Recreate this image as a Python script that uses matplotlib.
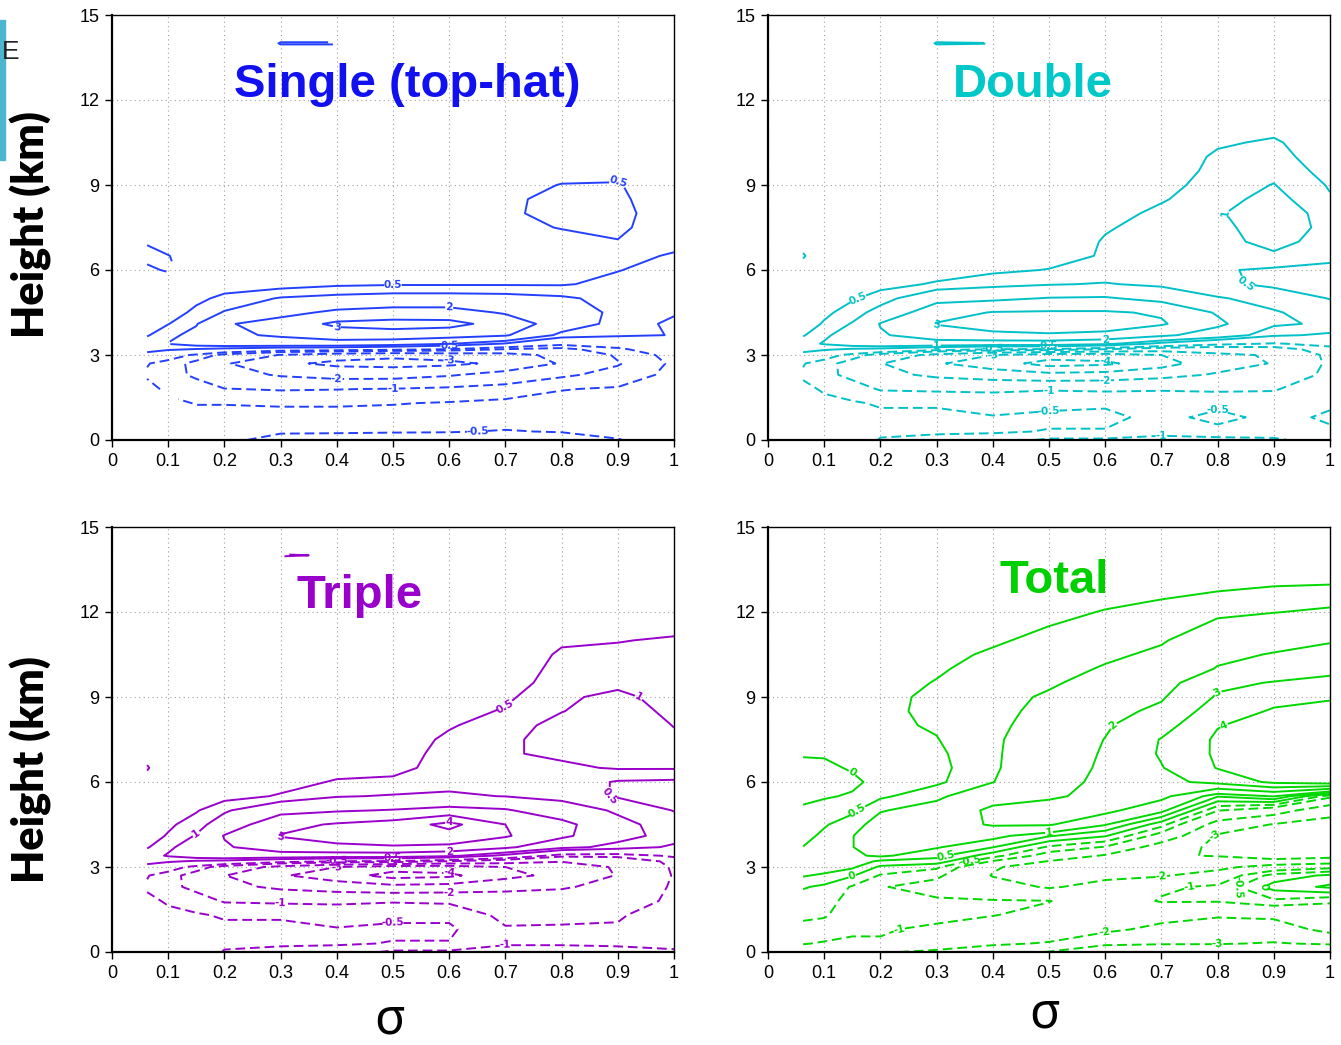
#!/usr/bin/env python3
"""
Four-panel height / sigma contour chart (Single, Double, Triple, Total).
Fields are read off the reference picture on a coarse sigma x height grid.
"""
import matplotlib
matplotlib.use("Agg")
import matplotlib.pyplot as plt
import numpy as np
from matplotlib import font_manager
from matplotlib.patches import Rectangle

# grid the fields are given on
SIGMA = [0.0625, 0.1, 0.15, 0.2, 0.3, 0.4, 0.5, 0.6, 0.7, 0.8, 0.9, 1.0]
HEIGHT_KM = [0.0, 0.3, 0.8, 1.3, 1.8, 2.3, 2.7, 3.0, 3.2, 3.4, 3.7, 4.1, 4.5, 5.0, 5.5,
             6.0, 6.5, 7.0, 7.5, 8.0, 8.5, 9.0, 9.5, 10.0, 10.5, 11.0, 12.0, 13.0, 14.0, 15.0]

LEVELS = [-4, -3, -2, -1, -0.5, 0.5, 1, 2, 3, 4]
LEVELS_TOTAL = [-4, -3, -2, -1, -0.5, 0, 0.5, 1, 2, 3, 4]

X_TICKS = [0, 0.1, 0.2, 0.3, 0.4, 0.5, 0.6, 0.7, 0.8, 0.9, 1]
X_TICK_LABELS = ["0", "0.1", "0.2", "0.3", "0.4", "0.5", "0.6", "0.7", "0.8", "0.9", "1"]
Y_TICKS = [0, 3, 6, 9, 12, 15]

# one profile (bottom -> top, on HEIGHT_KM) per SIGMA column
single_profiles = [
    [-0.1, -0.1, -0.2, -0.3, -0.35, -0.56, -0.47, 0.3, 0.7, 0.8, 0.45, 0.25, 0.1, 0.05, 0.1, 0.4, 0.65, 0.45, 0.1, 0, 0, 0, 0, 0, 0, 0, 0, 0, 0, 0],
    [-0.1, -0.15, -0.25, -0.4, -0.6, -0.8, -0.7, -0.2, 0.6, 1.02, 0.85, 0.48, 0.3, 0.15, 0.15, 0.56, 0.52, 0.2, 0, 0, 0, 0, 0, 0, 0, 0, 0, 0, 0, 0],
    [-0.2, -0.25, -0.35, -0.52, -0.75, -1.1, -1.2, -0.6, 0.45, 1.3, 1.2, 0.95, 0.6, 0.4, 0.15, 0.3, 0.2, 0.05, 0, 0, 0, 0, 0, 0, 0, 0, 0, 0, 0, 0],
    [-0.4, -0.4, -0.35, -0.52, -0.98, -1.6, -1.9, -1.2, 0.3, 1.5, 1.85, 1.9, 1.05, 0.6, 0.3, 0.2, 0.1, 0, 0, 0, 0, 0, 0, 0, 0, 0, 0, 0, 0, 0],
    [-0.65, -0.45, -0.35, -0.55, -1.05, -2.1, -2.8, -2.05, 0.0, 1.6, 2.1, 2.4, 1.7, 1.05, 0.25, 0.15, 0.05, 0, 0, 0, 0, 0, 0, 0, 0, 0, 0, 0, 0.52, 0],
    [-0.7, -0.45, -0.35, -0.55, -1.02, -2.4, -3.2, -2.6, -0.1, 1.6, 2.5, 3.2, 2.2, 1.2, 0.4, 0.15, 0.05, 0, 0, 0, 0, 0, 0, 0, 0, 0, 0, 0, 0.52, 0],
    [-0.7, -0.47, -0.35, -0.52, -0.97, -2.4, -3.3, -2.8, -0.3, 1.4, 2.6, 3.35, 2.4, 1.3, 0.45, 0.15, 0.05, 0, 0, 0, 0, 0, 0, 0, 0, 0, 0, 0, 0, 0],
    [-0.7, -0.48, -0.35, -0.47, -0.85, -2.1, -3.2, -2.6, -0.55, 1.05, 2.4, 3.3, 2.4, 1.3, 0.45, 0.15, 0.05, 0, 0, 0, 0, 0, 0, 0, 0, 0, 0, 0, 0, 0],
    [-0.7, -0.52, -0.35, -0.42, -0.7, -1.6, -2.8, -2.4, -1.05, 0.45, 2.1, 2.6, 1.9, 1.25, 0.45, 0.15, 0.1, 0.25, 0.38, 0.42, 0.4, 0.3, 0.15, 0.05, 0, 0, 0, 0, 0, 0],
    [-0.7, -0.48, -0.3, -0.35, -0.52, -1.1, -1.9, -1.7, -1.2, -0.3, 0.8, 1.5, 1.4, 1.1, 0.45, 0.3, 0.25, 0.35, 0.52, 0.65, 0.65, 0.52, 0.3, 0.1, 0, 0, 0, 0, 0, 0],
    [-0.52, -0.4, -0.25, -0.3, -0.45, -0.8, -1.05, -0.9, -0.6, -0.2, 0.6, 0.75, 0.85, 0.8, 0.65, 0.48, 0.35, 0.48, 0.6, 0.7, 0.65, 0.55, 0.3, 0.1, 0, 0, 0, 0, 0, 0],
    [-0.3, -0.3, -0.2, -0.2, -0.25, -0.35, -0.4, -0.3, -0.1, 0.2, 0.48, 0.4, 0.55, 0.7, 0.75, 0.7, 0.55, 0.35, 0.2, 0.1, 0, 0, 0, 0, 0, 0, 0, 0, 0, 0],
]

double_profiles = [
    [-0.1, -0.15, -0.2, -0.3, -0.4, -0.56, -0.47, 0.3, 0.7, 0.8, 0.45, 0.25, 0.15, 0.1, 0.1, 0.3, 0.55, 0.3, 0.1, 0, 0, 0, 0, 0, 0, 0, 0, 0, 0, 0],
    [-0.2, -0.3, -0.3, -0.4, -0.55, -0.85, -0.75, -0.2, 0.6, 1.05, 0.9, 0.55, 0.4, 0.25, 0.15, 0.1, 0.1, 0.05, 0, 0, 0, 0, 0, 0, 0, 0, 0, 0, 0, 0],
    [-0.3, -0.4, -0.35, -0.45, -0.75, -1.15, -1.3, -0.7, 0.4, 1.4, 1.3, 1.05, 0.7, 0.45, 0.2, 0.1, 0.05, 0, 0, 0, 0, 0, 0, 0, 0, 0, 0, 0, 0, 0],
    [-0.52, -0.45, -0.4, -0.55, -1.05, -1.7, -1.95, -1.3, 0.3, 1.6, 1.9, 2.05, 1.3, 0.7, 0.35, 0.1, 0.05, 0, 0, 0, 0, 0, 0, 0, 0, 0, 0, 0, 0, 0],
    [-0.6, -0.45, -0.4, -0.55, -1.1, -2.2, -2.9, -2.3, -0.2, 1.6, 2.5, 3.05, 2.6, 1.7, 0.55, 0.3, 0.1, 0, 0, 0, 0, 0, 0, 0, 0, 0, 0, 0, 0.52, 0],
    [-0.7, -0.45, -0.47, -0.7, -1.1, -2.5, -3.5, -3.0, -0.55, 1.5, 2.8, 3.4, 3.05, 1.8, 0.8, 0.4, 0.15, 0.05, 0, 0, 0, 0, 0, 0, 0, 0, 0, 0, 0.505, 0],
    [-1.1, -0.52, -0.42, -0.6, -1.05, -2.7, -4.4, -3.5, -0.6, 1.5, 2.9, 3.5, 3.1, 2.05, 0.95, 0.52, 0.3, 0.1, 0, 0, 0, 0, 0, 0, 0, 0, 0, 0, 0, 0],
    [-1.1, -0.52, -0.42, -0.55, -1.1, -2.6, -4.2, -3.5, -1.05, 1.2, 2.8, 3.4, 3.1, 2.1, 1.05, 0.6, 0.55, 0.55, 0.45, 0.3, 0.1, 0, 0, 0, 0, 0, 0, 0, 0, 0],
    [-1.2, -0.8, -0.6, -0.65, -1.05, -2.3, -3.4, -3.0, -1.5, 0.3, 2.2, 3.1, 2.9, 1.7, 0.85, 0.8, 0.8, 0.75, 0.7, 0.62, 0.45, 0.3, 0.1, 0, 0, 0, 0, 0, 0, 0],
    [-1.2, -0.6, -0.4, -0.6, -1.1, -1.9, -2.4, -2.2, -1.5, -0.3, 1.5, 2.2, 1.9, 1.05, 0.6, 0.55, 0.65, 0.8, 0.85, 0.95, 0.8, 0.75, 0.7, 0.62, 0.4, 0.2, 0.05, 0, 0, 0],
    [-1.1, -0.7, -0.6, -0.7, -1.05, -1.6, -1.95, -1.9, -1.3, -0.55, 0.6, 1.1, 1.05, 0.8, 0.4, 0.42, 0.9, 1.2, 1.3, 1.3, 1.2, 1.02, 0.85, 0.75, 0.6, 0.3, 0.05, 0, 0, 0],
    [-0.7, -0.55, -0.45, -0.55, -0.6, -0.8, -0.85, -0.8, -0.7, -0.3, 0.4, 0.9, 0.75, 0.48, 0.35, 0.4, 0.6, 0.75, 0.85, 0.8, 0.55, 0.45, 0.3, 0.1, 0, 0, 0, 0, 0, 0],
]

triple_profiles = [
    [-0.1, -0.15, -0.2, -0.3, -0.4, -0.56, -0.47, 0.3, 0.7, 0.8, 0.45, 0.25, 0.15, 0.1, 0.1, 0.3, 0.55, 0.3, 0.1, 0, 0, 0, 0, 0, 0, 0, 0, 0, 0, 0],
    [-0.2, -0.3, -0.3, -0.4, -0.55, -0.85, -0.75, -0.2, 0.6, 1.05, 0.9, 0.55, 0.4, 0.25, 0.15, 0.1, 0.05, 0, 0, 0, 0, 0, 0, 0, 0, 0, 0, 0, 0, 0],
    [-0.3, -0.4, -0.35, -0.45, -0.75, -1.15, -1.3, -0.7, 0.4, 1.4, 1.3, 1.05, 0.75, 0.45, 0.2, 0.1, 0, 0, 0, 0, 0, 0, 0, 0, 0, 0, 0, 0, 0, 0],
    [-0.52, -0.45, -0.4, -0.55, -1.05, -1.7, -1.97, -1.3, 0.3, 1.6, 1.9, 2.05, 1.4, 0.9, 0.3, 0.15, 0.05, 0, 0, 0, 0, 0, 0, 0, 0, 0, 0, 0, 0, 0],
    [-0.6, -0.45, -0.4, -0.55, -1.1, -2.2, -2.9, -2.3, -0.2, 1.6, 2.5, 3.05, 2.7, 1.7, 0.55, 0.3, 0.15, 0.05, 0, 0, 0, 0, 0, 0, 0, 0, 0, 0, 0.52, 0],
    [-0.7, -0.45, -0.47, -0.7, -1.1, -2.5, -3.5, -3.0, -0.55, 1.5, 2.8, 3.4, 3.1, 1.9, 0.95, 0.55, 0.3, 0.1, 0.05, 0, 0, 0, 0, 0, 0, 0, 0, 0, 0.48, 0],
    [-1.1, -0.52, -0.42, -0.6, -1.05, -2.7, -4.4, -3.5, -0.6, 1.5, 2.9, 3.6, 3.4, 2.05, 1.05, 0.6, 0.35, 0.3, 0.2, 0.1, 0.05, 0, 0, 0, 0, 0, 0, 0, 0, 0],
    [-1.1, -0.52, -0.42, -0.6, -1.1, -2.6, -4.2, -3.5, -1.05, 1.2, 2.8, 3.6, 4.3, 2.3, 1.1, 0.8, 0.7, 0.65, 0.6, 0.45, 0.3, 0.15, 0.05, 0, 0, 0, 0, 0, 0, 0],
    [-1.2, -0.95, -0.95, -1.15, -1.4, -2.3, -3.3, -3.0, -1.5, 0.3, 2.2, 3.1, 3.0, 2.1, 0.98, 0.95, 0.95, 0.95, 0.9, 0.75, 0.55, 0.4, 0.25, 0.1, 0, 0, 0, 0, 0, 0],
    [-1.2, -0.95, -0.9, -1.2, -1.5, -2.1, -2.7, -2.5, -1.95, -0.8, 1.2, 2.2, 2.3, 1.4, 0.8, 0.8, 0.9, 1.1, 1.2, 1.2, 0.98, 0.9, 0.75, 0.7, 0.6, 0.4, 0.1, 0, 0, 0],
    [-1.2, -0.9, -0.95, -1.05, -1.4, -1.7, -1.95, -1.9, -1.6, -0.8, 0.8, 1.25, 1.2, 0.9, 0.45, 0.45, 1.05, 1.3, 1.45, 1.45, 1.3, 1.15, 0.85, 0.75, 0.6, 0.48, 0.2, 0, 0, 0],
    [-1.1, -0.8, -0.7, -0.75, -0.85, -0.9, -0.95, -0.9, -0.8, -0.4, 0.4, 0.75, 0.7, 0.48, 0.3, 0.4, 1.05, 1.2, 1.1, 0.98, 0.85, 0.75, 0.7, 0.65, 0.6, 0.55, 0.2, 0, 0, 0],
]

total_profiles = [
    [-1.3, -0.97, -0.65, -0.4, -0.25, 0.05, 0.55, 0.75, 0.75, 0.65, 0.51, 0.35, 0.25, 0.1, -0.15, -0.25, -0.15, 0.05, 0.15, 0.2, 0.2, 0.2, 0.2, 0.2, 0.2, 0.2, 0.15, 0.1, 0.1, 0.1],
    [-1.4, -1.05, -0.7, -0.45, -0.3, -0.1, 0.4, 0.8, 0.85, 0.8, 0.7, 0.6, 0.45, 0.2, -0.05, -0.15, -0.1, 0.05, 0.15, 0.2, 0.2, 0.2, 0.2, 0.2, 0.2, 0.2, 0.15, 0.1, 0.1, 0.1],
    [-1.4, -1.1, -0.9, -0.75, -0.7, -0.55, 0.05, 0.6, 0.8, 0.9, 0.98, 0.98, 0.75, 0.4, 0.05, -0.1, 0.05, 0.15, 0.25, 0.25, 0.25, 0.25, 0.25, 0.25, 0.25, 0.2, 0.15, 0.1, 0.1, 0.1],
    [-1.9, -1.05, -0.95, -0.85, -0.85, -0.95, -0.55, -0.1, 0.4, 1.1, 1.4, 1.4, 1.3, 0.95, 0.4, 0.15, 0.2, 0.3, 0.35, 0.4, 0.4, 0.4, 0.35, 0.3, 0.3, 0.25, 0.2, 0.15, 0.1, 0.1],
    [-2.2, -1.4, -1.1, -0.85, -0.9, -1.3, -0.85, -0.4, 0.3, 0.65, 1.05, 1.35, 1.5, 1.3, 0.85, 0.4, 0.35, 0.4, 0.48, 0.55, 0.6, 0.58, 0.52, 0.45, 0.4, 0.35, 0.25, 0.2, 0.15, 0.1],
    [-2.4, -1.9, -1.35, -0.98, -0.95, -1.6, -2.05, -1.9, -1.05, -0.3, 0.52, 1.2, 2.1, 2.2, 1.6, 0.98, 0.9, 0.9, 0.9, 0.85, 0.8, 0.75, 0.7, 0.65, 0.55, 0.45, 0.3, 0.2, 0.15, 0.1],
    [-3.05, -2.05, -1.6, -1.2, -0.98, -2.1, -2.5, -2.45, -2.05, -1.3, -0.6, 0.55, 2.1, 2.3, 1.9, 1.75, 1.6, 1.5, 1.4, 1.3, 1.2, 1.1, 0.9, 0.8, 0.7, 0.6, 0.4, 0.25, 0.15, 0.1],
    [-3.4, -2.9, -1.75, -1.5, -1.4, -1.7, -2.2, -2.5, -2.6, -2.1, -1.05, 0.05, 1.05, 2.3, 2.2, 2.15, 2.12, 2.08, 2.02, 1.9, 1.7, 1.5, 1.3, 1.05, 0.9, 0.8, 0.52, 0.3, 0.2, 0.1],
    [-3.5, -2.95, -2.3, -1.6, -0.95, -1.1, -2.1, -2.6, -2.8, -2.9, -2.5, -1.3, -0.3, 1.2, 2.3, 2.7, 2.95, 3.1, 3.05, 2.6, 2.2, 1.9, 1.6, 1.3, 1.1, 0.95, 0.62, 0.35, 0.2, 0.1],
    [-3.6, -2.95, -2.5, -1.9, -0.95, -0.9, -1.5, -2.3, -2.6, -3.05, -3.2, -3.1, -2.4, -0.95, 0.55, 3.3, 4.05, 4.15, 4.15, 3.95, 3.5, 3.1, 2.8, 2.05, 1.8, 1.35, 0.9, 0.35, 0.2, 0.1],
    [-3.7, -3.05, -2.5, -1.8, -0.6, 0.2, -0.3, -1.5, -2.8, -3.3, -3.5, -3.4, -3.05, -1.5, 1.05, 4.2, 4.5, 4.6, 4.6, 4.4, 4.1, 3.7, 3.05, 2.5, 2.05, 1.7, 0.98, 0.45, 0.25, 0.1],
    [-3.8, -2.9, -1.7, -1.5, -0.9, 0.6, 0.1, -1.2, -2.5, -3.3, -3.6, -3.6, -3.3, -2.7, -0.8, 4.6, 4.8, 4.9, 4.9, 4.6, 4.3, 3.9, 3.2, 2.8, 2.4, 1.9, 1.1, 0.48, 0.3, 0.1],
]


def pick_font(candidates):
    names = {f.name for f in font_manager.fontManager.ttflist}
    for c in candidates:
        if c in names:
            return c
    return "DejaVu Sans"


def draw_panel(ax, profiles, levels, line_color, title, title_color, title_xy,
               tick_font, title_font, title_size):
    field = np.array(profiles).T          # rows = heights, cols = sigma
    cs = ax.contour(SIGMA, HEIGHT_KM, field, levels=levels, colors=line_color,
                    linewidths=1.4)
    labels = ax.clabel(cs, fmt=lambda v: f"{v:g}", fontsize=7.5, inline=True,
                       inline_spacing=1)
    for t in labels:
        t.set_fontweight("bold")
        x, y = t.get_position()
        # no labels on the tiny stray pieces near the top / left edge
        if y > 13 or x < 0.14:
            t.remove()

    ax.set_xlim(0, 1)
    ax.set_ylim(0, 15)
    ax.set_xticks(X_TICKS)
    ax.set_xticklabels(X_TICK_LABELS)
    ax.set_yticks(Y_TICKS)
    ax.grid(True, color="#a0a0a0", linestyle=(0, (1, 3)), linewidth=0.8)
    ax.tick_params(direction="out", length=5, width=1.0, labelsize=13, pad=4)
    for lab in ax.get_xticklabels() + ax.get_yticklabels():
        lab.set_family(tick_font)
    for side in ("top", "right"):
        ax.spines[side].set_linewidth(1.0)
    for side in ("left", "bottom"):
        ax.spines[side].set_linewidth(1.6)

    ax.text(title_xy[0], title_xy[1], title, color=title_color, ha="center",
            va="baseline", fontsize=title_size, fontweight="bold", family=title_font)


def main():
    plt.rcParams["lines.dashed_pattern"] = [5, 2.5]
    plt.rcParams["contour.negative_linestyle"] = "dashed"

    narrow = pick_font(["Liberation Sans Narrow"])
    if narrow == "Liberation Sans Narrow":
        tick_font, title_font, title_size = narrow, narrow, 40
    else:
        tick_font, title_font, title_size = "Liberation Sans", "Liberation Sans", 34
    label_font = pick_font(["Lato", "Open Sans", "DejaVu Sans"])

    W, H = 1341, 1045
    fig = plt.figure(figsize=(W / 100, H / 100), dpi=100)

    def axes_px(x0, y0, x1, y1):
        return fig.add_axes([x0 / W, 1 - y1 / H, (x1 - x0) / W, (y1 - y0) / H])

    ax_s = axes_px(112, 15, 674, 440)
    ax_d = axes_px(768, 15, 1330, 440)
    ax_t = axes_px(112, 527, 674, 952)
    ax_tot = axes_px(768, 527, 1330, 952)

    draw_panel(ax_s, single_profiles, LEVELS, "#2440ff", "Single (top-hat)",
               "#1010f0", (0.525, 12.1), tick_font, title_font, title_size)
    draw_panel(ax_d, double_profiles, LEVELS, "#00c0c8", "Double",
               "#00c8c8", (0.471, 12.1), tick_font, title_font, title_size)
    draw_panel(ax_t, triple_profiles, LEVELS, "#9a00cc", "Triple",
               "#9900cc", (0.44, 12.14), tick_font, title_font, title_size)
    draw_panel(ax_tot, total_profiles, LEVELS_TOTAL, "#00d800", "Total",
               "#00d000", (0.51, 12.67), tick_font, title_font, title_size)

    # shared axis titles
    for yc in (225, 770):
        fig.text(31 / W, 1 - yc / H, "Height (km)", rotation=90, ha="center",
                 va="center", fontsize=31, fontweight="heavy", family=label_font)
    fig.text(390 / W, 1 - 1020 / H, "σ", ha="center", va="center", fontsize=36,
             family="Noto Sans")
    fig.text(1045 / W, 1 - 1015 / H, "σ", ha="center", va="center", fontsize=36,
             family="Noto Sans")

    # slide-edge remnants at top left
    fig.patches.append(Rectangle((0, 1 - 160 / H), 5 / W, 140 / H,
                                 transform=fig.transFigure, color="#4db6cf"))
    fig.text(2 / W, 1 - 52 / H, "E", ha="left", va="center", fontsize=19,
             color="#222222", family="Liberation Sans")

    fig.savefig("out.png", dpi=100)


if __name__ == "__main__":
    main()
